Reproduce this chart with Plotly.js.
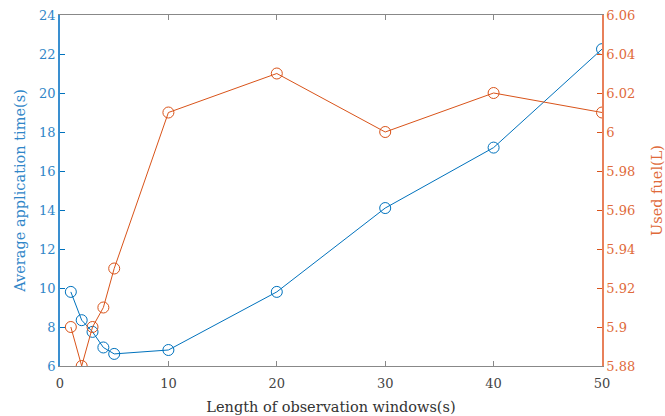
<!DOCTYPE html>
<html><head><meta charset="utf-8">
<script src="https://cdn.plot.ly/plotly-3.0.1.min.js"></script>
<style>body{margin:0;background:#fff}#c{width:665px;height:416px}</style>
</head><body><div id="c"></div>
<script>
const windowLen = [1, 2, 3, 4, 5, 10, 20, 30, 40, 50];
const appTime = [9.8, 8.35, 7.75, 6.95, 6.62, 6.82, 9.8, 14.1, 17.2, 22.25];
const usedFuel = [5.90, 5.88, 5.90, 5.91, 5.93, 6.01, 6.03, 6.00, 6.02, 6.01];
const blue = '#0072BD', orange = '#D95319';
const font = 'DejaVu Serif';
const traces = [
  {x: windowLen, y: appTime, type: 'scatter', mode: 'lines+markers', yaxis: 'y',
   line: {color: blue, width: 1}, marker: {symbol: 'circle-open', size: 11, color: blue, line: {width: 1}}},
  {x: windowLen, y: usedFuel, type: 'scatter', mode: 'lines+markers', yaxis: 'y2',
   line: {color: orange, width: 1}, marker: {symbol: 'circle-open', size: 11, color: orange, line: {width: 1}}}
];
const layout = {
  width: 665, height: 416, showlegend: false,
  margin: {l: 60, r: 63, t: 15, b: 50},
  paper_bgcolor: '#fff', plot_bgcolor: '#fff',
  font: {family: font, size: 13, color: '#333'},
  xaxis: {range: [0, 50], tickvals: [0, 10, 20, 30, 40, 50], showgrid: false, zeroline: false,
    showline: true, linecolor: '#888', linewidth: 1, mirror: 'ticks', ticks: 'inside', ticklen: 5, tickcolor: '#888',
    ticklabelstandoff: 5,
    tickfont: {family: font, size: 13, color: '#444'},
    title: {text: 'Length of observation windows(s)', font: {family: font, size: 14.5, color: '#333'}, standoff: 12}},
  yaxis: {range: [6, 24], tickvals: [6, 8, 10, 12, 14, 16, 18, 20, 22, 24], showgrid: false, zeroline: false,
    showline: true, linecolor: '#3a8fd0', linewidth: 1.5, ticks: 'inside', ticklen: 5, tickcolor: blue,
    tickfont: {family: font, size: 13, color: '#2f86c8'},
    title: {text: 'Average application time(s)', font: {family: font, size: 14.5, color: '#2f86c8'}, standoff: 10}},
  yaxis2: {range: [5.88, 6.06], overlaying: 'y', side: 'right',
    tickvals: [5.88, 5.9, 5.92, 5.94, 5.96, 5.98, 6, 6.02, 6.04, 6.06],
    ticktext: ['5.88', '5.9', '5.92', '5.94', '5.96', '5.98', '6', '6.02', '6.04', '6.06'],
    showgrid: false, zeroline: false,
    showline: true, linecolor: '#e8805a', linewidth: 1.5, ticks: 'inside', ticklen: 5, tickcolor: orange,
    tickfont: {family: font, size: 13, color: '#e06a3a'},
    title: {text: 'Used fuel(L)', font: {family: font, size: 14.5, color: '#e06a3a'}, standoff: 18}}
};
Plotly.newPlot('c', traces, layout, {displayModeBar: false});
</script></body></html>
